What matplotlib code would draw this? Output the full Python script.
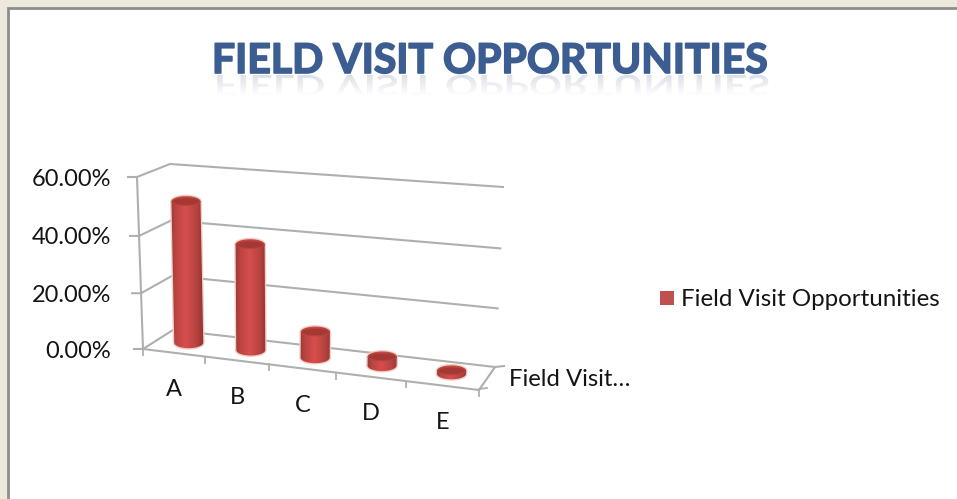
import numpy as np
import matplotlib
matplotlib.use("Agg")
import matplotlib.pyplot as plt
import matplotlib.patheffects as pe
from matplotlib.font_manager import FontProperties
from matplotlib.patches import Ellipse, PathPatch, Rectangle
from matplotlib.path import Path
from matplotlib.textpath import TextPath
from matplotlib.transforms import Affine2D, Transform

title = "FIELD VISIT OPPORTUNITIES"
series_name = "Field Visit Opportunities"
categories = ["A", "B", "C", "D", "E"]
values = [50, 37, 9, 3, 1]
value_ticks = [0, 20, 40, 60]
tick_labels = ["0.00%", "20.00%", "40.00%", "60.00%"]
axis_label = "Field Visit…"

plt.rcParams["font.family"] = ["Lato", "DejaVu Sans"]
GRID = "#adb0ae"
INK = "#141414"


class PlaneTransform(Transform):
    """Perspective map of (category position, value) onto one plane of the 3D box."""
    input_dims = 2
    output_dims = 2

    def __init__(self, corners):
        super().__init__()
        src = [(0, 0), (5, 0), (5, 60), (0, 60)]
        a = []
        b = []
        for (x, y), (u, v) in zip(src, corners):
            a.append([x, y, 1, 0, 0, 0, -u * x, -u * y])
            a.append([0, 0, 0, x, y, 1, -v * x, -v * y])
            b += [u, v]
        self.h = np.append(np.linalg.solve(np.array(a, float), np.array(b, float)), 1).reshape(3, 3)

    def transform_non_affine(self, values):
        pts = np.column_stack([values, np.ones(len(values))]) @ self.h.T
        return pts[:, :2] / pts[:, 2:]


front_corners = np.array([(143, 349), (479, 390), (488, 200), (137, 177)], float)
back_corners = np.array([(173, 330), (495, 367), (503, 187), (170, 164)], float)
front = PlaneTransform(front_corners)
back = PlaneTransform(back_corners)
middle = PlaneTransform(front_corners * 0.48 + back_corners * 0.52)

fig = plt.figure(figsize=(9.57, 4.99), dpi=100, facecolor="#ece9dc")
ax = fig.add_axes([0, 0, 1, 1])
ax.axis("off")

# window frame of the screenshot
ax.add_patch(Rectangle((8, 8), 960, 500, fc="white", ec="#8c8c8c", lw=2, zorder=0))

# box: walls, floor and ticks
for v in value_ticks:
    f = front.transform(np.array([[0, v]], float))[0]
    b0 = back.transform(np.array([[0, v]], float))[0]
    b1 = back.transform(np.array([[5, v]], float))[0]
    ax.plot([f[0] - 9, f[0], b0[0], b1[0]], [f[1], f[1], b0[1], b1[1]], color=GRID, lw=1.5, zorder=1)

ends = front.transform(np.array([[0, 60], [0, 0], [5, 0]], float))
ax.plot(ends[:, 0], ends[:, 1], color=GRID, lw=1.5, zorder=1)
for x in range(6):
    p = front.transform(np.array([[x, 0]], float))[0]
    ax.plot([p[0], p[0]], [p[1], p[1] + 6], color=GRID, lw=1.3, zorder=1)

br = back.transform(np.array([[5, 0]], float))[0]
fr = front.transform(np.array([[5, 0]], float))[0]
ax.plot([fr[0], br[0], br[0] + 9], [fr[1], br[1], br[1] - 1], color=GRID, lw=1.5, zorder=1)
ax.plot([fr[0], fr[0] + 8], [fr[1] - 1, fr[1] - 2], color=GRID, lw=1.3, zorder=1)

# cylinders
bar_w = 29
rim_h = 11
shade = np.interp(np.linspace(0, 1, 64), [0, 0.15, 0.45, 0.8, 1],
                  [0.72, 0.86, 1.0, 0.84, 0.66])
red = np.array([0.84, 0.31, 0.30])
body_img = np.clip(red * shade[:, None], 0, 1)[None, :, :]

for i, v in enumerate(values):
    pts = middle.transform(np.array([[i + 0.5, 0], [i + 0.5, v]], float))
    (bx, by), (tx, ty) = pts
    t = np.linspace(np.pi, 0, 30)
    low_x = bx + bar_w / 2 * np.cos(t)
    low_y = by + rim_h / 2 * np.sin(t)
    top_x = tx + bar_w / 2 * np.cos(t[::-1])
    top_y = ty - rim_h / 2 * np.sin(t[::-1])
    outline = np.column_stack([np.r_[low_x, top_x], np.r_[low_y, top_y]])
    path = Path(np.vstack([outline, outline[:1]]), closed=True)
    ax.add_patch(PathPatch(path, fc="none", ec="#f3cdc4", lw=2.0, zorder=2))
    im = ax.imshow(body_img, extent=(min(bx, tx) - bar_w / 2 - 1, max(bx, tx) + bar_w / 2 + 1,
                                     by + rim_h, ty - rim_h),
                   aspect="auto", interpolation="bilinear", zorder=3)
    im.set_clip_path(PathPatch(path, transform=ax.transData))
    ax.add_patch(Ellipse((tx, ty), bar_w - 1, rim_h * 0.7, fc="#a63834", ec="#b8443f", lw=0.8, zorder=4))

# value and category labels
for v, lab in zip(value_ticks, tick_labels):
    p = front.transform(np.array([[0, v]], float))[0]
    ax.text(111, p[1] + 2, lab, ha="right", va="center", fontsize=17, color=INK)
for i, lab in enumerate(categories):
    p = front.transform(np.array([[i + 0.5, 0]], float))[0]
    ax.text(p[0] + 0.5, p[1] + 37, lab, ha="center", va="center", fontsize=17, color=INK)
ax.text(509, 379, axis_label, ha="left", va="center", fontsize=17.2, color=INK)

# legend
ax.add_patch(Rectangle((660, 291), 14, 14, fc="#c0504d", ec="none"))
ax.text(681, 299, series_name, ha="left", va="center", fontsize=17.4, color=INK)

# title and its faded mirror image
title_size = 29.5
ax.text(489.5, 73, title, ha="center", va="baseline", fontsize=title_size,
        fontweight="bold", color="#3c5d92",
        path_effects=[pe.withStroke(linewidth=1.2, foreground="#3c5d92")])
title_prop = FontProperties(family="Lato", weight="bold")
px_size = title_size * 100 / 72
mirror = TextPath((0, 0), title, size=px_size, prop=title_prop)
mirror_w = mirror.get_extents().width
mirror = mirror.transformed(Affine2D().scale(1, 0.7).translate(489.5 - mirror_w / 2, 75))
fade = np.ones((64, 1, 4))
fade[:, 0, :3] = (0.6, 0.64, 0.74)
fade[:, 0, 3] = np.linspace(0.34, 0, 64)
im = ax.imshow(fade, extent=(150, 830, 96, 75), aspect="auto", zorder=1)
im.set_clip_path(PathPatch(mirror, transform=ax.transData))

ax.set_xlim(0, 957)
ax.set_ylim(499, 0)
fig.savefig("out.png", dpi=100, facecolor=fig.get_facecolor())
